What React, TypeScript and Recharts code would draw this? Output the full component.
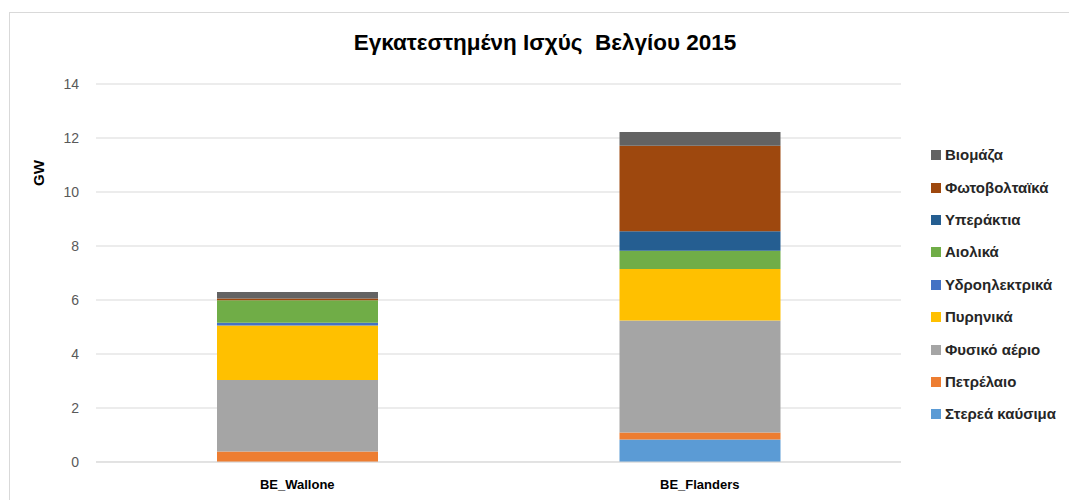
import React from 'react';
import { BarChart, Bar, XAxis, YAxis, CartesianGrid } from 'recharts';

const categories = ['BE_Wallone', 'BE_Flanders'];

const solidFuels = [0, 0.83];
const oil = [0.385, 0.26];
const naturalGas = [2.65, 4.15];
const nuclear = [2.02, 1.91];
const hydro = [0.1, 0];
const wind = [0.84, 0.67];
const offshore = [0, 0.73];
const solarPv = [0.06, 3.16];
const biomass = [0.245, 0.51];

const yTicks = [0, 2, 4, 6, 8, 10, 12, 14];

const SERIES = [
  { key: 'solid', name: 'Στερεά καύσιμα', values: solidFuels, color: '#5B9BD5' },
  { key: 'oil', name: 'Πετρέλαιο', values: oil, color: '#ED7D31' },
  { key: 'gas', name: 'Φυσικό αέριο', values: naturalGas, color: '#A5A5A5' },
  { key: 'nuclear', name: 'Πυρηνικά', values: nuclear, color: '#FFC000' },
  { key: 'hydro', name: 'Υδροηλεκτρικά', values: hydro, color: '#4472C4' },
  { key: 'wind', name: 'Αιολικά', values: wind, color: '#70AD47' },
  { key: 'offshore', name: 'Υπεράκτια', values: offshore, color: '#255E91' },
  { key: 'pv', name: 'Φωτοβολταϊκά', values: solarPv, color: '#9E480E' },
  { key: 'biomass', name: 'Βιομάζα', values: biomass, color: '#636363' },
];

const data = categories.map((name, i) => {
  const row: Record<string, string | number> = { name };
  SERIES.forEach(s => {
    row[s.key] = s.values[i];
  });
  return row;
});

const FONT = '"Liberation Sans", Arial, sans-serif';

function SideLegend() {
  const items = [...SERIES].reverse();
  return (
    <div style={{ position: 'absolute', left: 931, top: 139, fontFamily: FONT }}>
      {items.map(s => (
        <div key={s.key} style={{ display: 'flex', alignItems: 'center', height: 32.4 }}>
          <span style={{ width: 10, height: 10, background: s.color, marginRight: 4 }} />
          <span style={{ fontSize: 15, fontWeight: 'bold', color: '#262626', lineHeight: '18px' }}>{s.name}</span>
        </div>
      ))}
    </div>
  );
}

export default function App() {
  return (
    <div style={{ position: 'absolute', left: 0, top: 0, width: 1069, height: 500, overflow: 'hidden', background: '#fff' }}>
      <div style={{ position: 'absolute', left: 9, top: 12, width: 1100, height: 600, border: '1px solid #d9d9d9' }} />
      <div
        style={{
          position: 'absolute', left: 0, width: 1090, top: 30, textAlign: 'center',
          fontFamily: FONT, fontWeight: 'bold', fontSize: 22.5, color: '#000', whiteSpace: 'pre',
        }}
      >
        Εγκατεστημένη Ισχύς  Βελγίου 2015
      </div>
      <div style={{ position: 'absolute', left: 0, top: 0 }}>
        <BarChart width={1069} height={500} data={data} margin={{ top: 84, right: 168, bottom: 8, left: 0 }}>
          <CartesianGrid vertical={false} stroke="#d9d9d9" />
          <XAxis
            dataKey="name"
            height={30}
            tickLine={false}
            axisLine={{ stroke: '#d9d9d9' }}
            tickSize={0}
            tickMargin={18}
            tick={{ fontSize: 13, fontWeight: 'bold', fill: '#000', fontFamily: FONT }}
          />
          <YAxis
            width={96}
            domain={[0, 14]}
            ticks={yTicks}
            tickLine={false}
            axisLine={false}
            tickSize={0}
            tickMargin={17}
            tick={{ fontSize: 14, fill: '#595959', fontFamily: FONT }}
            label={{
              content: () => (
                <text
                  x={38}
                  y={173}
                  transform="rotate(-90 38 173)"
                  textAnchor="middle"
                  dominantBaseline="central"
                  fontFamily={FONT}
                  fontSize={15}
                  fontWeight="bold"
                  fill="#000"
                >
                  GW
                </text>
              ),
            }}
          />
          {SERIES.map(s => (
            <Bar key={s.key} dataKey={s.key} name={s.name} stackId="a" fill={s.color} barSize={161} isAnimationActive={false} />
          ))}
        </BarChart>
      </div>
      <SideLegend />
    </div>
  );
}
